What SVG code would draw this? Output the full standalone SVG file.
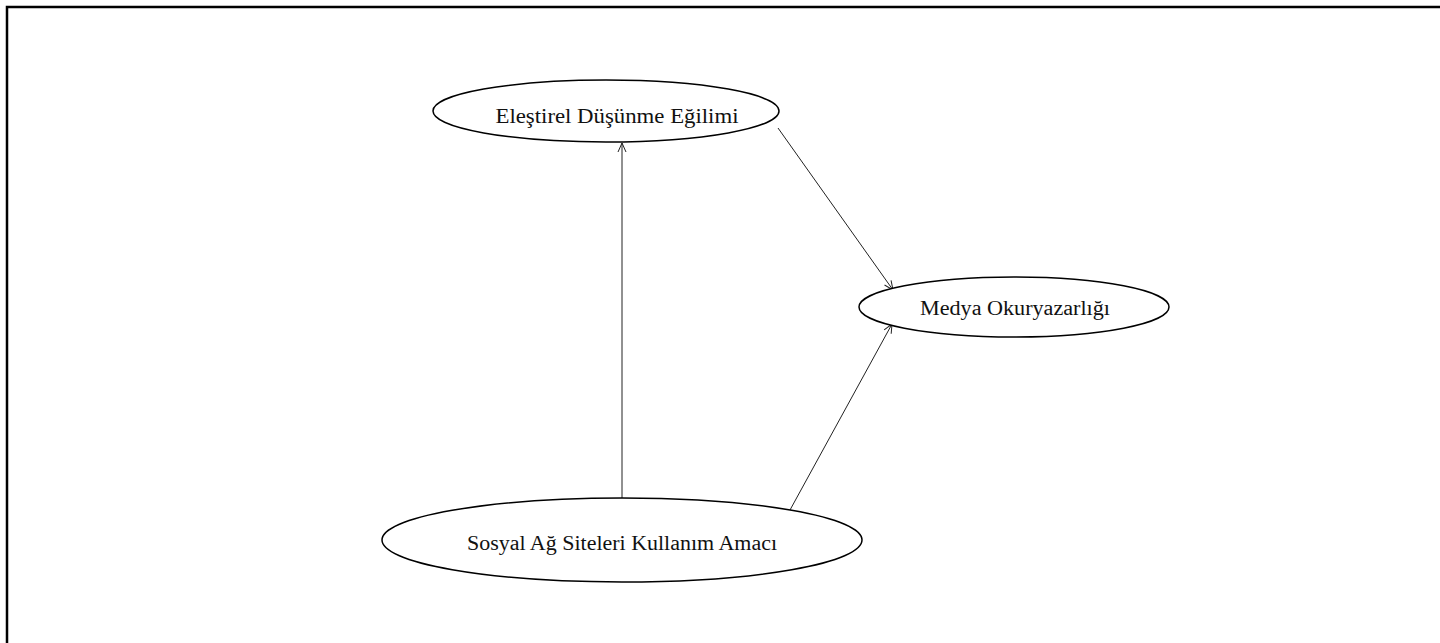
<svg xmlns="http://www.w3.org/2000/svg" width="1440" height="643" viewBox="0 0 1440 643">
  <style>
    .node ellipse { fill: #ffffff; stroke: #000000; stroke-width: 1.5; }
    .node text { font-family: "Liberation Serif", "DejaVu Serif", serif; font-size: 20px; fill: #111111; text-anchor: middle; }
    .edge { stroke: #222222; stroke-width: 1; fill: none; marker-end: url(#arrow); }
  </style>
  <defs>
    <marker id="arrow" viewBox="0 0 10 10" refX="10" refY="5" markerWidth="10" markerHeight="10" markerUnits="userSpaceOnUse" orient="auto">
      <path d="M1,1 L10,5 L1,9" fill="none" stroke="#222222" stroke-width="1"/>
    </marker>
  </defs>
  <rect width="1440" height="643" fill="#ffffff"/>
  <!-- frame (top and left edges) -->
  <path d="M7,643 L7,7 L1440,7" fill="none" stroke="#000000" stroke-width="2.5"/>

  <g id="connectors">
    <line class="edge" x1="622" y1="498" x2="622" y2="143"/>
    <line class="edge" x1="778" y1="128" x2="893" y2="290"/>
    <line class="edge" x1="790" y1="510" x2="892" y2="324"/>
  </g>

  <g id="node-elestirel" class="node">
    <ellipse cx="606" cy="111" rx="173" ry="31"/>
    <text x="617" y="123" textLength="243" lengthAdjust="spacingAndGlyphs">Eleştirel Düşünme Eğilimi</text>
  </g>
  <g id="node-medya" class="node">
    <ellipse cx="1014" cy="307" rx="155" ry="30"/>
    <text x="1015" y="315" textLength="190" lengthAdjust="spacingAndGlyphs">Medya Okuryazarlığı</text>
  </g>
  <g id="node-sosyal" class="node">
    <ellipse cx="622" cy="540" rx="240" ry="42"/>
    <text x="622" y="550" textLength="310" lengthAdjust="spacingAndGlyphs">Sosyal Ağ Siteleri Kullanım Amacı</text>
  </g>
</svg>
